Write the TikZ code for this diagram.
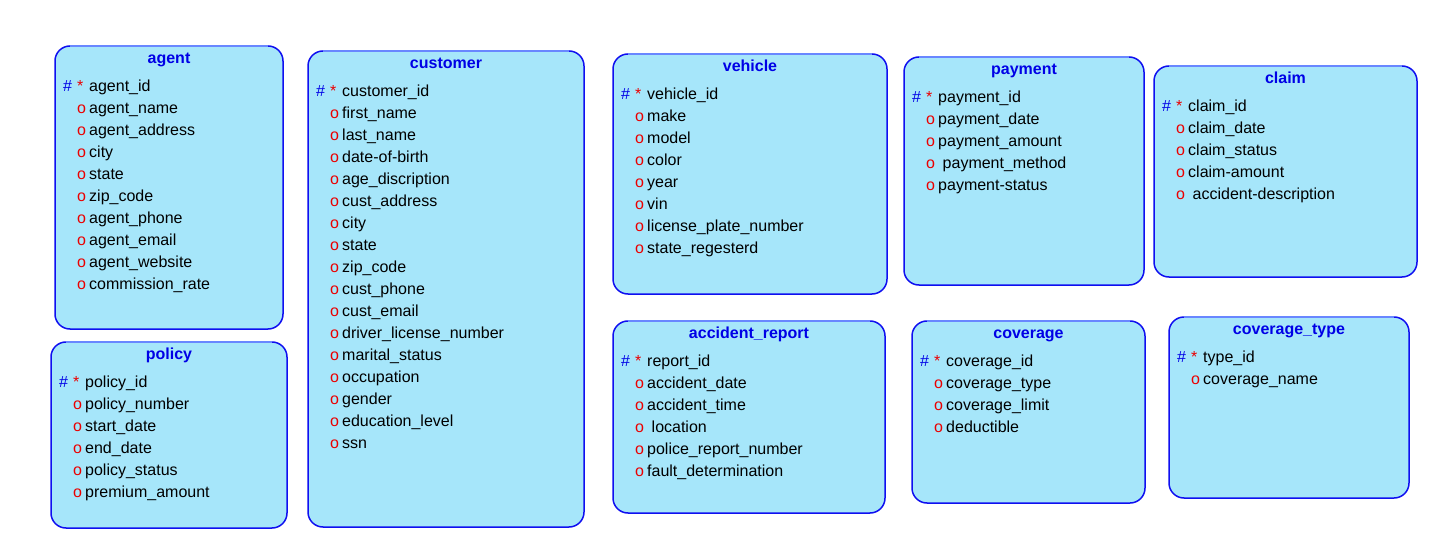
\documentclass[tikz,border=0pt]{standalone}
\usepackage{fontspec}
\setmainfont{Liberation Sans}
\definecolor{boxfill}{RGB}{166,230,250}
\definecolor{boxline}{RGB}{15,15,240}
\definecolor{boxtop}{RGB}{105,135,255}
\definecolor{keyblue}{RGB}{0,0,230}
\definecolor{mkred}{RGB}{235,0,0}
\tikzset{
  entbox/.style={draw=boxline, fill=boxfill, line width=1.5pt, rounded corners=15pt,
    anchor=north west, outer sep=0pt, inner sep=0pt},
  topedge/.style={draw=boxtop, line width=1.5pt},
  ttl/.style={anchor=base, text=keyblue, font=\fontsize{16}{19}\selectfont\bfseries, inner sep=0pt},
  attr/.style={anchor=base west, text=black, font=\fontsize{16}{19}\selectfont, inner sep=0pt},
  mk/.style={anchor=base west, font=\fontsize{16}{19}\selectfont, inner sep=0pt}
}
\newcommand\entbox[6]{% name, x, y, width, height, title
  \node[entbox, minimum width=#4pt, minimum height=#5pt] (#1) at (#2,#3) {};
  \draw[topedge] ([xshift=15pt]#1.north west) -- ([xshift=-15pt]#1.north east);
  \node[ttl] (#1-title) at ([yshift=-17.8pt]#1.north) {#6};
}
\newcommand\entattrs[2]{% name, fields (first is the key)
  \foreach \f [count=\i] in {#2} {
    \pgfmathsetmacro\yy{-45.8-22*(\i-1)}
    \node[attr] (#1-a\i) at ([xshift=34pt,yshift=\yy pt]#1.north west) {\f};
    \ifnum\i=1
      \node[mk, text=keyblue] (#1-h\i) at ([xshift=8pt,yshift=\yy pt]#1.north west) {\#};
      \node[mk, text=mkred] (#1-m\i) at ([xshift=22pt,yshift=\yy pt]#1.north west) {*};
    \else
      \node[mk, text=mkred] (#1-m\i) at ([xshift=22pt,yshift=\yy pt]#1.north west) {o};
    \fi
  }
}
\begin{document}
\begin{tikzpicture}[x=1pt,y=-1pt]
\useasboundingbox[fill=white] (0,0) rectangle (1430,540);

\entbox{agent}{55}{46}{228}{283}{agent}
\entattrs{agent}{agent\_id,agent\_name,agent\_address,city,state,zip\_code,agent\_phone,agent\_email,agent\_website,commission\_rate}

\entbox{policy}{51}{342}{236}{186}{policy}
\entattrs{policy}{policy\_id,policy\_number,start\_date,end\_date,policy\_status,premium\_amount}

\entbox{customer}{308}{51}{276}{476}{customer}
\entattrs{customer}{customer\_id,first\_name,last\_name,date-of-birth,age\_discription,cust\_address,city,state,zip\_code,cust\_phone,cust\_email,driver\_license\_number,marital\_status,occupation,gender,education\_level,ssn}

\entbox{vehicle}{613}{54}{274}{240}{vehicle}
\entattrs{vehicle}{vehicle\_id,make,model,color,year,vin,license\_plate\_number,state\_regesterd}

\entbox{payment}{904}{57}{240}{228}{payment}
\entattrs{payment}{payment\_id,payment\_date,payment\_amount,\hspace{4.5pt}payment\_method,payment-status}

\entbox{claim}{1154}{66}{263}{211}{claim}
\entattrs{claim}{claim\_id,claim\_date,claim\_status,claim-amount,\hspace{4.5pt}accident-description}

\entbox{accident_report}{613}{321}{272}{192}{accident\_report}
\entattrs{accident_report}{report\_id,accident\_date,accident\_time,\hspace{4.5pt}location,police\_report\_number,fault\_determination}

\entbox{coverage}{912}{321}{233}{182}{coverage}
\entattrs{coverage}{coverage\_id,coverage\_type,coverage\_limit,deductible}

\entbox{coverage_type}{1169}{317}{240}{181}{coverage\_type}
\entattrs{coverage_type}{type\_id,coverage\_name}
\end{tikzpicture}
\end{document}
